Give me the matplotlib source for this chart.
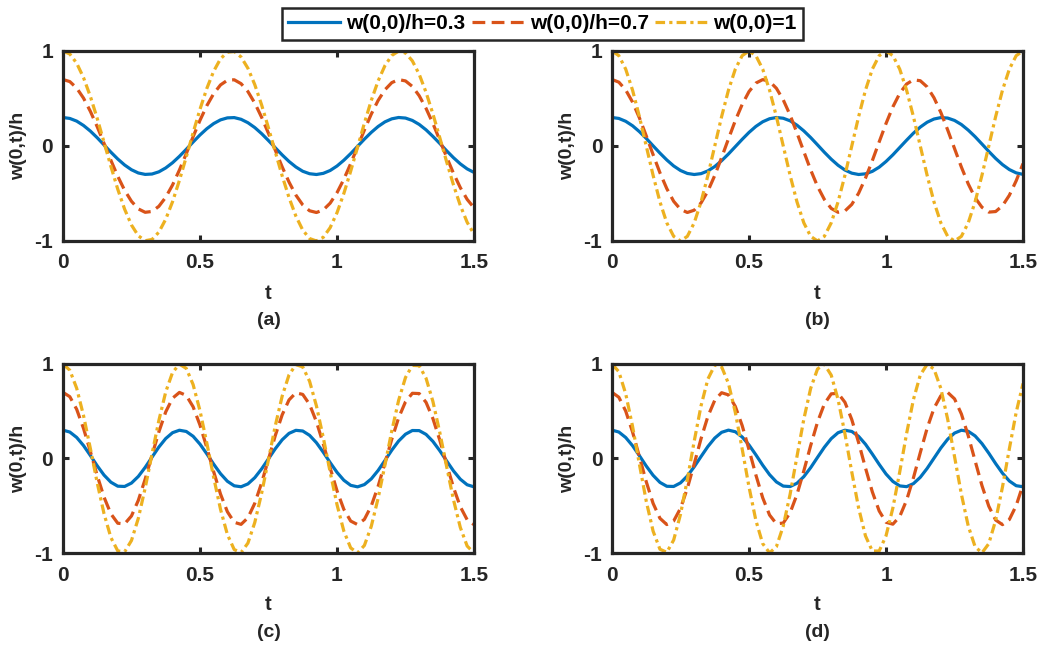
import matplotlib
matplotlib.use('Agg')
import matplotlib.pyplot as plt

plt.rcParams['font.family'] = ['Liberation Sans', 'DejaVu Sans']
plt.rcParams['font.weight'] = 'bold'
plt.rcParams['axes.unicode_minus'] = False

# time samples read along the t axis
t = [0, 0.025, 0.05, 0.075, 0.1, 0.125, 0.15, 0.175, 0.2, 0.225,
     0.25, 0.275, 0.3, 0.325, 0.35, 0.375, 0.4, 0.425, 0.45, 0.475,
     0.5, 0.525, 0.55, 0.575, 0.6, 0.625, 0.65, 0.675, 0.7, 0.725,
     0.75, 0.775, 0.8, 0.825, 0.85, 0.875, 0.9, 0.925, 0.95, 0.975,
     1.0, 1.025, 1.05, 1.075, 1.1, 1.125, 1.15, 1.175, 1.2, 1.225,
     1.25, 1.275, 1.3, 1.325, 1.35, 1.375, 1.4, 1.425, 1.45, 1.475,
     1.5]

labels = ['w(0,0)/h=0.3', 'w(0,0)/h=0.7', 'w(0,0)=1']
panel_names = ['(a)', '(b)', '(c)', '(d)']

# panel (a)
a_03 = [0.300, 0.290, 0.262, 0.216, 0.157, 0.087, 0.011, -0.065, -0.137, -0.200,
        -0.250, -0.284, -0.299, -0.295, -0.272, -0.231, -0.176, -0.109, -0.035, 0.042,
        0.116, 0.182, 0.236, 0.275, 0.296, 0.299, 0.281, 0.245, 0.194, 0.130,
        0.057, -0.019, -0.094, -0.163, -0.221, -0.266, -0.292, -0.300, -0.288, -0.258,
        -0.211, -0.150, -0.080, -0.004, 0.072, 0.143, 0.205, 0.254, 0.286, 0.300,
        0.294, 0.269, 0.227, 0.170, 0.101, 0.027, -0.050, -0.123, -0.188, -0.241,
        -0.278]
a_07 = [0.700, 0.678, 0.610, 0.504, 0.365, 0.203, 0.027, -0.151, -0.319, -0.466,
        -0.582, -0.662, -0.698, -0.689, -0.635, -0.540, -0.410, -0.253, -0.081, 0.098,
        0.270, 0.424, 0.551, 0.643, 0.692, 0.697, 0.656, 0.573, 0.452, 0.302,
        0.133, -0.045, -0.220, -0.380, -0.517, -0.620, -0.682, -0.700, -0.673, -0.602,
        -0.492, -0.350, -0.186, -0.009, 0.168, 0.335, 0.479, 0.592, 0.667, 0.699,
        0.685, 0.627, 0.529, 0.396, 0.237, 0.062, -0.116, -0.286, -0.438, -0.562,
        -0.650]
a_1 = [1.000, 0.968, 0.872, 0.720, 0.522, 0.290, 0.038, -0.215, -0.455, -0.665,
       -0.832, -0.945, -0.997, -0.984, -0.907, -0.771, -0.586, -0.362, -0.115, 0.140,
       0.386, 0.606, 0.787, 0.918, 0.988, 0.995, 0.937, 0.818, 0.646, 0.432,
       0.190, -0.064, -0.314, -0.543, -0.738, -0.885, -0.974, -1.000, -0.961, -0.860,
       -0.703, -0.500, -0.265, -0.013, 0.240, 0.478, 0.684, 0.846, 0.953, 0.999,
       0.979, 0.896, 0.755, 0.565, 0.338, 0.089, -0.165, -0.409, -0.626, -0.803,
       -0.928]

# panel (b)
b_03 = [0.300, 0.290, 0.260, 0.213, 0.151, 0.080, 0.002, -0.075, -0.147, -0.210,
        -0.258, -0.289, -0.300, -0.291, -0.262, -0.216, -0.155, -0.084, -0.007, 0.070,
        0.143, 0.206, 0.255, 0.287, 0.300, 0.292, 0.265, 0.219, 0.159, 0.089,
        0.012, -0.066, -0.139, -0.203, -0.253, -0.286, -0.300, -0.293, -0.267, -0.223,
        -0.163, -0.093, -0.016, 0.061, 0.135, 0.199, 0.250, 0.284, 0.299, 0.294,
        0.269, 0.226, 0.167, 0.098, 0.021, -0.057, -0.131, -0.196, -0.248, -0.283,
        -0.299]
b_07 = [0.700, 0.672, 0.590, 0.462, 0.296, 0.107, -0.091, -0.282, -0.449, -0.582,
        -0.667, -0.700, -0.676, -0.599, -0.474, -0.310, -0.122, 0.075, 0.267, 0.437,
        0.573, 0.662, 0.699, 0.680, 0.607, 0.485, 0.325, 0.138, -0.059, -0.252,
        -0.425, -0.563, -0.657, -0.698, -0.684, -0.615, -0.497, -0.338, -0.154, 0.043,
        0.237, 0.412, 0.554, 0.652, 0.697, 0.687, 0.622, 0.508, 0.353, 0.169,
        -0.027, -0.222, -0.399, -0.544, -0.645, -0.696, -0.690, -0.629, -0.519, -0.366,
        -0.185]
b_1 = [1.000, 0.951, 0.809, 0.588, 0.309, 0.000, -0.309, -0.588, -0.809, -0.951,
       -1.000, -0.951, -0.809, -0.588, -0.309, 0.000, 0.309, 0.588, 0.809, 0.951,
       1.000, 0.951, 0.809, 0.588, 0.309, 0.000, -0.309, -0.588, -0.809, -0.951,
       -1.000, -0.951, -0.809, -0.588, -0.309, 0.000, 0.309, 0.588, 0.809, 0.951,
       1.000, 0.951, 0.809, 0.588, 0.309, 0.000, -0.309, -0.588, -0.809, -0.951,
       -1.000, -0.951, -0.809, -0.588, -0.309, 0.000, 0.309, 0.588, 0.809, 0.951,
       1.000]

# panel (c)
c_03 = [0.300, 0.280, 0.223, 0.137, 0.032, -0.077, -0.176, -0.251, -0.293, -0.296,
        -0.260, -0.190, -0.094, 0.014, 0.121, 0.211, 0.273, 0.299, 0.286, 0.235,
        0.152, 0.049, -0.060, -0.161, -0.241, -0.289, -0.299, -0.269, -0.203, -0.110,
        -0.003, 0.104, 0.198, 0.266, 0.298, 0.291, 0.245, 0.167, 0.066, -0.043,
        -0.146, -0.230, -0.284, -0.300, -0.276, -0.216, -0.127, -0.021, 0.088, 0.185,
        0.257, 0.296, 0.295, 0.255, 0.181, 0.083, -0.025, -0.131, -0.219, -0.278,
        -0.300]
c_07 = [0.700, 0.654, 0.521, 0.319, 0.074, -0.180, -0.410, -0.586, -0.685, -0.692,
        -0.608, -0.443, -0.219, 0.034, 0.281, 0.493, 0.638, 0.699, 0.667, 0.547,
        0.354, 0.115, -0.140, -0.377, -0.563, -0.675, -0.697, -0.627, -0.474, -0.258,
        -0.008, 0.244, 0.462, 0.620, 0.695, 0.678, 0.572, 0.389, 0.155, -0.099,
        -0.341, -0.538, -0.662, -0.699, -0.644, -0.503, -0.295, -0.048, 0.204, 0.431,
        0.600, 0.690, 0.687, 0.594, 0.423, 0.195, -0.059, -0.305, -0.510, -0.648,
        -0.700]
c_1 = [1.000, 0.934, 0.744, 0.455, 0.106, -0.257, -0.586, -0.837, -0.978, -0.988,
       -0.868, -0.633, -0.313, 0.048, 0.402, 0.704, 0.911, 0.998, 0.953, 0.782,
       0.506, 0.164, -0.200, -0.538, -0.804, -0.964, -0.995, -0.895, -0.677, -0.368,
       -0.011, 0.348, 0.660, 0.885, 0.993, 0.969, 0.817, 0.556, 0.221, -0.142,
       -0.487, -0.768, -0.946, -0.999, -0.920, -0.719, -0.422, -0.069, 0.292, 0.616,
       0.857, 0.985, 0.982, 0.849, 0.604, 0.278, -0.084, -0.435, -0.729, -0.926,
       -1.000]

# panel (d)
d_03 = [0.300, 0.280, 0.222, 0.135, 0.030, -0.080, -0.178, -0.253, -0.294, -0.296,
        -0.258, -0.185, -0.088, 0.021, 0.127, 0.216, 0.277, 0.300, 0.283, 0.228,
        0.143, 0.039, -0.071, -0.171, -0.248, -0.292, -0.297, -0.262, -0.192, -0.097,
        0.012, 0.119, 0.210, 0.273, 0.299, 0.286, 0.234, 0.151, 0.047, -0.062,
        -0.164, -0.243, -0.290, -0.298, -0.266, -0.199, -0.105, 0.003, 0.111, 0.204,
        0.269, 0.299, 0.288, 0.239, 0.158, 0.056, -0.054, -0.156, -0.238, -0.288,
        -0.299]
d_07 = [0.700, 0.648, 0.502, 0.281, 0.019, -0.246, -0.475, -0.633, -0.699, -0.662,
        -0.527, -0.315, -0.057, 0.210, 0.446, 0.616, 0.696, 0.673, 0.551, 0.349,
        0.094, -0.174, -0.416, -0.598, -0.691, -0.683, -0.574, -0.381, -0.132, 0.137,
        0.385, 0.577, 0.684, 0.690, 0.595, 0.412, 0.168, -0.100, -0.353, -0.555,
        -0.675, -0.695, -0.614, -0.442, -0.205, 0.062, 0.320, 0.531, 0.664, 0.699,
        0.631, 0.471, 0.241, -0.024, -0.286, -0.505, -0.651, -0.700, -0.646, -0.498,
        -0.276]
d_1 = [1.000, 0.918, 0.685, 0.340, -0.061, -0.452, -0.769, -0.960, -0.993, -0.863,
       -0.591, -0.222, 0.183, 0.558, 0.841, 0.987, 0.970, 0.794, 0.488, 0.102,
       -0.301, -0.655, -0.901, -0.999, -0.933, -0.714, -0.378, 0.021, 0.416, 0.742,
       0.947, 0.997, 0.882, 0.624, 0.262, -0.143, -0.524, -0.819, -0.979, -0.979,
       -0.818, -0.523, -0.142, 0.263, 0.624, 0.883, 0.997, 0.947, 0.742, 0.415,
       0.020, -0.378, -0.714, -0.933, -0.999, -0.901, -0.655, -0.301, 0.102, 0.489,
       0.794]

panels = [(a_03, a_07, a_1), (b_03, b_07, b_1), (c_03, c_07, c_1), (d_03, d_07, d_1)]

colors = ['#0072BD', '#D95319', '#EDB120']
styles = ['-', (0, (4, 2)), (0, (3, 1.3, 1, 1.3))]
dark = '#262626'

fig = plt.figure(figsize=(10.51, 6.48), dpi=100)
positions = [[0.0599, 0.6281, 0.3911, 0.2932],
             [0.5823, 0.6281, 0.3911, 0.2932],
             [0.0599, 0.1466, 0.3911, 0.2917],
             [0.5823, 0.1466, 0.3911, 0.2917]]

handles = []
for i, pos in enumerate(positions):
    ax = fig.add_axes(pos)
    for series, c, ls in zip(panels[i], colors, styles):
        ln, = ax.plot(t, series, color=c, linestyle=ls, linewidth=2.3)
        if i == 0:
            handles.append(ln)
    ax.set_xlim(0, 1.5)
    ax.set_ylim(-1, 1)
    ax.set_xticks([0, 0.5, 1, 1.5])
    ax.set_xticklabels(['0', '0.5', '1', '1.5'])
    ax.set_yticks([-1, 0, 1])
    ax.set_yticklabels(['-1', '0', '1'])
    ax.tick_params(direction='in', top=True, right=True, length=4, width=2.2,
                   labelsize=15, colors=dark)
    ax.tick_params(axis='x', pad=9)
    ax.tick_params(axis='y', pad=7)
    for lab in ax.get_xticklabels() + ax.get_yticklabels():
        lab.set_fontweight('bold')
    for sp in ax.spines.values():
        sp.set_linewidth(2.3)
        sp.set_color(dark)
    ax.text(-0.107, 0.5, 'w(0,t)/h', transform=ax.transAxes, rotation=90,
            ha='center', va='center', fontsize=14, fontweight='bold', color=dark)
    ax.text(0.5, -0.275, 't', transform=ax.transAxes, ha='center', va='center',
            fontsize=14.5, fontweight='bold', color=dark)
    ax.text(0.5, -0.42, panel_names[i], transform=ax.transAxes, ha='center',
            va='center', fontsize=14, fontweight='bold', color=dark)

leg = fig.legend(handles, labels, loc='center', bbox_to_anchor=(0.516, 0.963),
                 ncol=3, fancybox=False, framealpha=1, edgecolor=dark,
                 handlelength=2.5, handletextpad=0.3, columnspacing=0.3,
                 borderpad=0.3, prop={'weight': 'bold', 'size': 15})
leg.get_frame().set_linewidth(1.8)

fig.savefig('out.png', dpi=100)
